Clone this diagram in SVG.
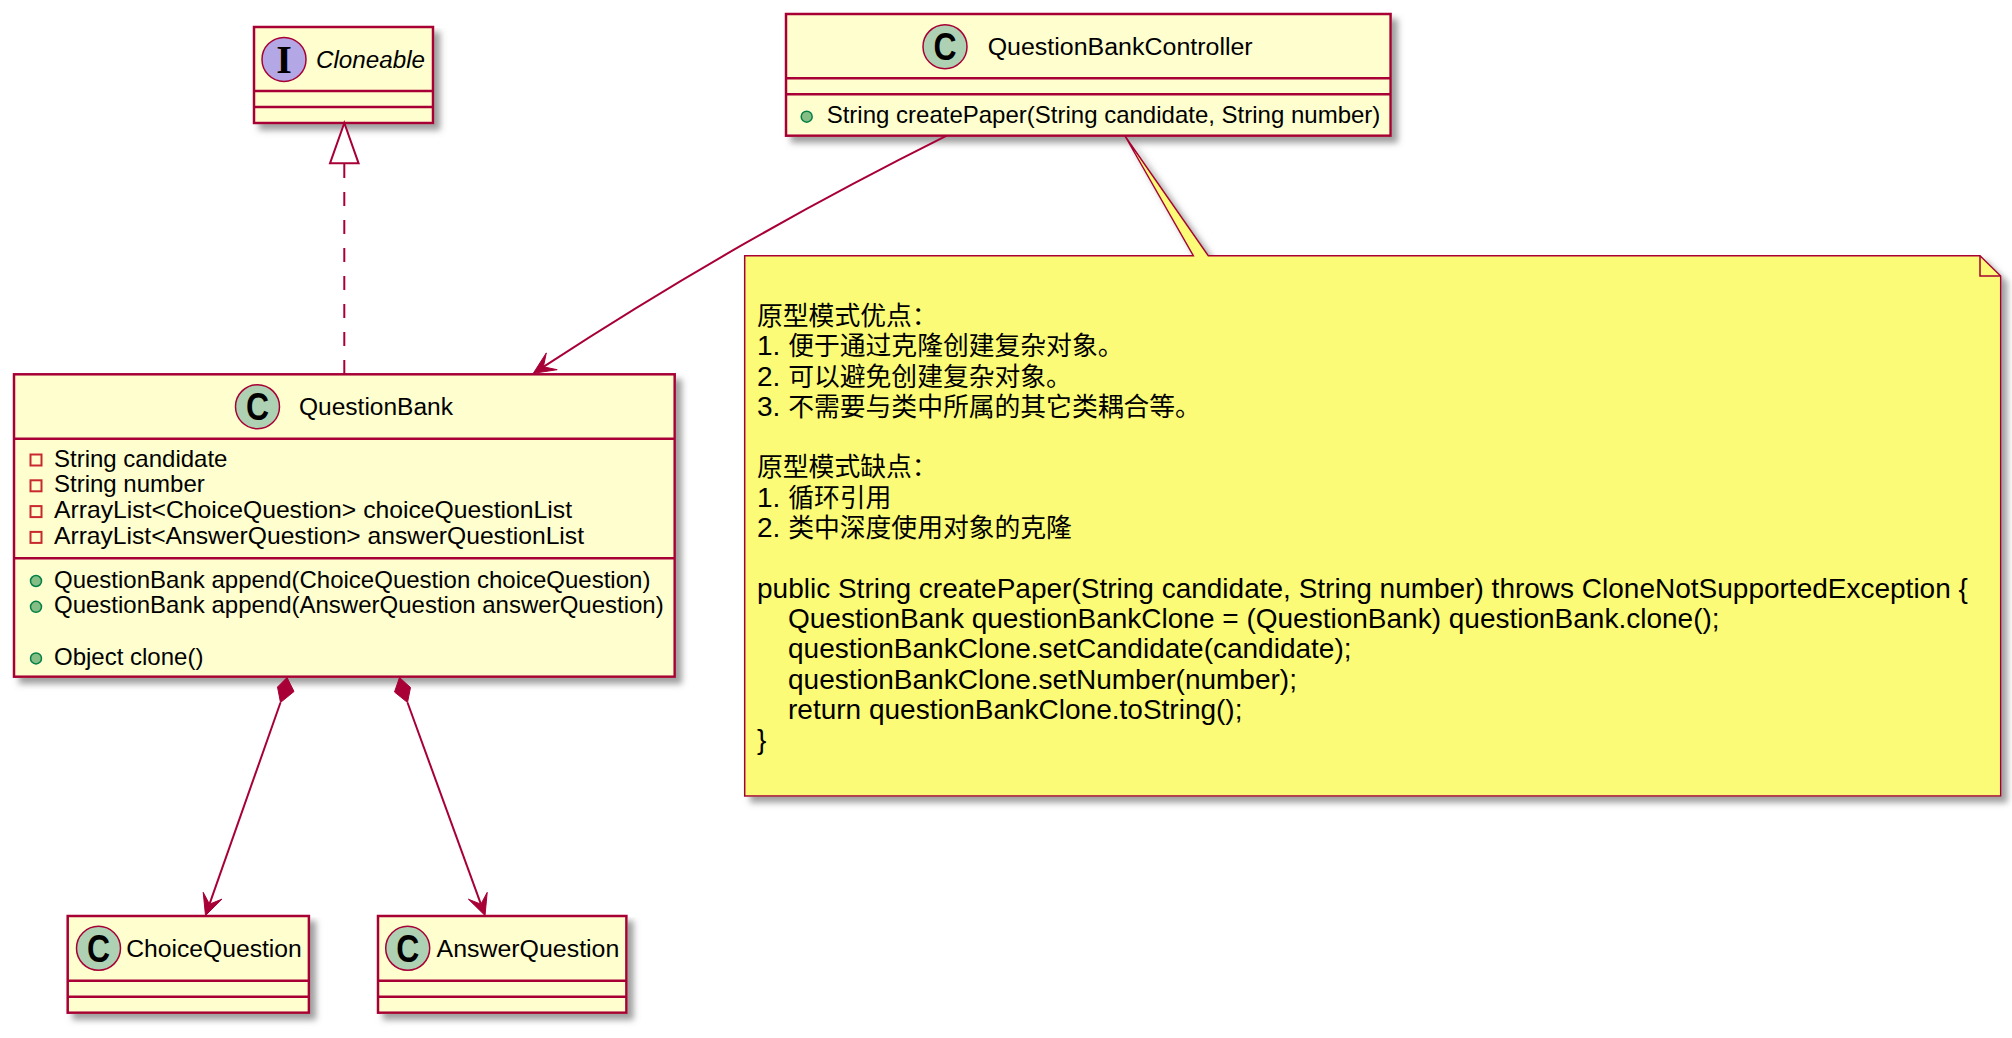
<svg xmlns="http://www.w3.org/2000/svg" width="2012" height="1038" viewBox="0 0 2012 1038">
<defs>
<filter id="sh" x="-5%" y="-5%" width="115%" height="125%">
<feGaussianBlur in="SourceAlpha" stdDeviation="3" result="b"/>
<feOffset in="b" dx="6" dy="6" result="o"/>
<feFlood flood-color="#808080" flood-opacity="0.75"/>
<feComposite in2="o" operator="in" result="s"/>
<feMerge><feMergeNode in="s"/><feMergeNode in="SourceGraphic"/></feMerge>
</filter>
<style>
.box{fill:#FEFECE;stroke:#A80036;stroke-width:2.5;filter:url(#sh)}
.dv{stroke:#A80036;stroke-width:2.5}
.title{font-family:"Liberation Sans",Arial,sans-serif;font-size:24.7px;fill:#000}
.mem{font-family:"Liberation Sans",Arial,sans-serif;font-size:24px;fill:#000}
.ic{fill:#ADD1B2;stroke:#A80036;stroke-width:1.5}
.ii{fill:#B4A7E5;stroke:#A80036;stroke-width:1.5}
.icl{font-family:"Liberation Sans",Arial,sans-serif;font-weight:bold;font-size:38px;fill:#000}
.icI{font-family:"Liberation Serif","Times New Roman",serif;font-weight:bold;font-size:40px;fill:#000}
.priv{fill:none;stroke:#C82930;stroke-width:2}
.pub{fill:#84BE84;stroke:#038048;stroke-width:1.5}
.note{fill:#FBFB77;stroke:#A80036;stroke-width:1.5;filter:url(#sh)}
.fold{fill:none;stroke:#A80036;stroke-width:1.5}
.nt{font-family:"Liberation Sans","Noto Sans CJK SC",sans-serif;font-size:28px;fill:#000}
.cjk{font-family:"Noto Sans CJK SC",sans-serif;font-size:25.8px}
.ln{fill:none;stroke:#A80036;stroke-width:2}
.dash{stroke-dasharray:14,14}
.ah{fill:#A80036;stroke:#A80036;stroke-width:1;stroke-linejoin:miter}
.tri{fill:#FFFFFF;stroke:#A80036;stroke-width:2}
</style>
</defs>
<rect width="2012" height="1038" fill="#FFFFFF"/>

<g id="Cloneable">
<rect class="box" x="254" y="27" width="179" height="96"/>
<line class="dv" x1="254" y1="91" x2="433" y2="91"/>
<line class="dv" x1="254" y1="107" x2="433" y2="107"/>
<circle class="ii" cx="284" cy="59.4" r="22"/>
<text class="icI" x="284" y="72.6" text-anchor="middle">I</text>
<text class="title" x="316" y="68" font-style="italic" textLength="109" lengthAdjust="spacingAndGlyphs">Cloneable</text>
</g>

<g id="QuestionBankController">
<rect class="box" x="786" y="14" width="604.6" height="121.7"/>
<line class="dv" x1="786" y1="78.3" x2="1390.6" y2="78.3"/>
<line class="dv" x1="786" y1="94.3" x2="1390.6" y2="94.3"/>
<circle class="ic" cx="945" cy="46.7" r="22"/>
<text class="icl" transform="translate(945 46.7) scale(0.84 1)" x="0" y="13.6" text-anchor="middle">C</text>
<text class="title" x="987.7" y="55" textLength="265" lengthAdjust="spacingAndGlyphs">QuestionBankController</text>
<circle class="pub" cx="806.7" cy="116.7" r="5.5"/>
<text class="mem" x="826.7" y="123.3">String createPaper(String candidate, String number)</text>
</g>

<g id="QuestionBank">
<rect class="box" x="14" y="374.3" width="660.7" height="302.4"/>
<line class="dv" x1="14" y1="438.7" x2="674.7" y2="438.7"/>
<line class="dv" x1="14" y1="558.3" x2="674.7" y2="558.3"/>
<circle class="ic" cx="257.5" cy="406.7" r="22"/>
<text class="icl" transform="translate(257.5 406.7) scale(0.84 1)" x="0" y="13.6" text-anchor="middle">C</text>
<text class="title" x="299" y="415" textLength="154" lengthAdjust="spacingAndGlyphs">QuestionBank</text>
<rect class="priv" x="30.5" y="454.5" width="11" height="11"/>
<text class="mem" x="54" y="466.5">String candidate</text>
<rect class="priv" x="30.5" y="480.3" width="11" height="11"/>
<text class="mem" x="54" y="492.3">String number</text>
<rect class="priv" x="30.5" y="506.1" width="11" height="11"/>
<text class="mem" x="54" y="518.1" textLength="518" lengthAdjust="spacingAndGlyphs">ArrayList&lt;ChoiceQuestion&gt; choiceQuestionList</text>
<rect class="priv" x="30.5" y="531.9" width="11" height="11"/>
<text class="mem" x="54" y="543.9" textLength="530" lengthAdjust="spacingAndGlyphs">ArrayList&lt;AnswerQuestion&gt; answerQuestionList</text>
<circle class="pub" cx="36" cy="581" r="5.5"/>
<text class="mem" x="54" y="587.5">QuestionBank append(ChoiceQuestion choiceQuestion)</text>
<circle class="pub" cx="36" cy="606.8" r="5.5"/>
<text class="mem" x="54" y="613.3">QuestionBank append(AnswerQuestion answerQuestion)</text>
<circle class="pub" cx="36" cy="658.4" r="5.5"/>
<text class="mem" x="54" y="664.9">Object clone()</text>
</g>

<g id="ChoiceQuestion">
<rect class="box" x="67.7" y="916" width="241.2" height="96.7"/>
<line class="dv" x1="67.7" y1="980.7" x2="308.9" y2="980.7"/>
<line class="dv" x1="67.7" y1="996.7" x2="308.9" y2="996.7"/>
<circle class="ic" cx="98.5" cy="948.3" r="22"/>
<text class="icl" transform="translate(98.5 948.3) scale(0.84 1)" x="0" y="13.6" text-anchor="middle">C</text>
<text class="title" x="126.2" y="957" textLength="175.6" lengthAdjust="spacingAndGlyphs">ChoiceQuestion</text>
</g>

<g id="AnswerQuestion">
<rect class="box" x="378" y="916" width="248.4" height="96.7"/>
<line class="dv" x1="378" y1="980.7" x2="626.4" y2="980.7"/>
<line class="dv" x1="378" y1="996.7" x2="626.4" y2="996.7"/>
<circle class="ic" cx="407.7" cy="948.3" r="22"/>
<text class="icl" transform="translate(407.7 948.3) scale(0.84 1)" x="0" y="13.6" text-anchor="middle">C</text>
<text class="title" x="436.6" y="957" textLength="182.7" lengthAdjust="spacingAndGlyphs">AnswerQuestion</text>
</g>

<g id="note">
<path class="note" d="M744.7,255.7 L1193.3,255.7 L1125,136 L1208.3,255.7 L1980,255.7 L2000.7,276 L2000.7,796 L744.7,796 Z"/>
<path class="fold" d="M1980,255.7 L1980,276 L2000.7,276"/>
<text class="nt" x="757" y="324.9"><tspan class="cjk">原型模式优点：</tspan></text>
<text class="nt" x="757" y="355.2">1. <tspan class="cjk">便于通过克隆创建复杂对象。</tspan></text>
<text class="nt" x="757" y="385.5">2. <tspan class="cjk">可以避免创建复杂对象。</tspan></text>
<text class="nt" x="757" y="415.8">3. <tspan class="cjk">不需要与类中所属的其它类耦合等。</tspan></text>
<text class="nt" x="757" y="476.4"><tspan class="cjk">原型模式缺点：</tspan></text>
<text class="nt" x="757" y="506.7">1. <tspan class="cjk">循环引用</tspan></text>
<text class="nt" x="757" y="537">2. <tspan class="cjk">类中深度使用对象的克隆</tspan></text>
<text class="nt" x="757" y="597.6">public String createPaper(String candidate, String number) throws CloneNotSupportedException {</text>
<text class="nt" x="788" y="627.9">QuestionBank questionBankClone = (QuestionBank) questionBank.clone();</text>
<text class="nt" x="788" y="658.2">questionBankClone.setCandidate(candidate);</text>
<text class="nt" x="788" y="688.5">questionBankClone.setNumber(number);</text>
<text class="nt" x="788" y="718.8">return questionBankClone.toString();</text>
<text class="nt" x="757" y="749.1">}</text>
</g>

<g id="connectors">
<path class="ln dash" d="M344.3,374 L344.3,163.3"/>
<polygon class="tri" points="344.3,123 330,163.3 358.6,163.3"/>

<path class="ln" d="M946.7,135.7 C806.7,205.7 683,276 543.4,366.8"/>
<polygon class="ah" points="533.3,373.3 557.2,369.7 543.4,366.8 546.3,352.9"/>

<polygon class="ah" points="287,677.5 294,691.5 280.5,702.5 277.5,687"/>
<path class="ln" d="M280.5,702.5 L209.5,904.2"/>
<polygon class="ah" points="205.5,915.5 222,899.1 209.5,904.2 203.2,892.3"/>

<polygon class="ah" points="399.5,677.5 410.5,687.5 407.5,702.5 394.5,692"/>
<path class="ln" d="M407.5,702.5 L480.9,904.2"/>
<polygon class="ah" points="485,915.5 468.4,899.2 480.9,904.2 487.2,892.4"/>
</g>
</svg>
